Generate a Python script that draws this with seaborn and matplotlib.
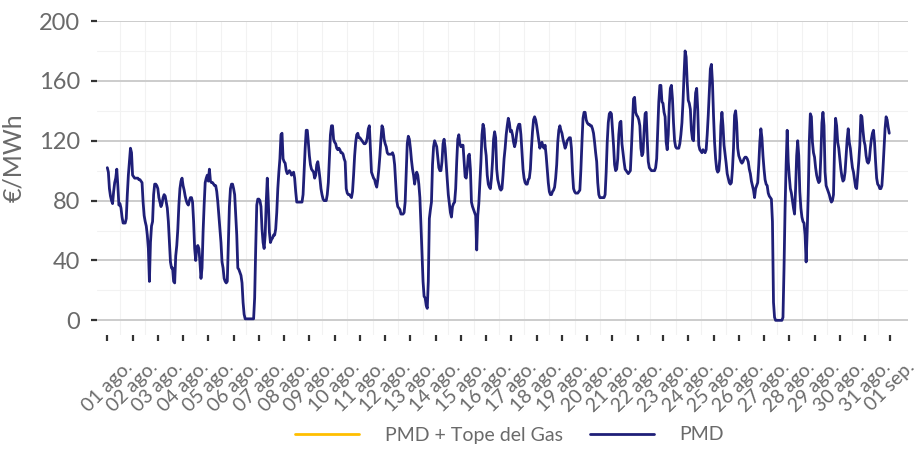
import numpy as np
import pandas as pd
import matplotlib
matplotlib.use("Agg")
import matplotlib.pyplot as plt
import seaborn as sns
from matplotlib.ticker import MultipleLocator, FixedLocator

# Hourly PMD (€/MWh), August, one list per day (hours 0..23)
d01 = [102, 99, 88, 83, 80, 78, 86, 92, 95, 101, 90, 77, 78, 75, 69, 65, 65, 65, 68, 84, 97, 106, 115, 112]
d02 = [97, 96, 95, 95, 95, 95, 94, 94, 93, 92, 79, 70, 66, 63, 57, 48, 26, 52, 63, 66, 84, 91, 91, 90]
d03 = [88, 82, 79, 76, 78, 82, 84, 83, 79, 75, 66, 52, 39, 35, 35, 26, 25, 43, 50, 61, 77, 88, 93, 95]
d04 = [90, 87, 83, 80, 78, 77, 80, 82, 82, 79, 66, 48, 40, 49, 50, 48, 39, 28, 35, 59, 77, 92, 95, 97]
d05 = [93, 101, 93, 92, 92, 91, 90, 90, 86, 79, 70, 61, 52, 39, 35, 28, 26, 25, 26, 50, 76, 88, 91, 91]
d06 = [88, 84, 70, 57, 35, 34, 32, 30, 25, 12, 4, 1, 1, 1, 1, 1, 1, 1, 1, 1, 15, 48, 77, 81]
d07 = [81, 80, 76, 61, 52, 48, 57, 79, 95, 79, 59, 52, 54, 55, 57, 57, 61, 72, 88, 99, 108, 124, 125, 108]
d08 = [106, 105, 100, 98, 99, 100, 99, 97, 98, 99, 95, 86, 79, 79, 79, 79, 79, 79, 84, 99, 115, 127, 127, 119]
d09 = [110, 104, 101, 100, 99, 95, 97, 104, 106, 101, 95, 88, 84, 81, 80, 80, 80, 84, 92, 108, 124, 130, 130, 121]
d10 = [119, 118, 115, 114, 115, 114, 112, 112, 111, 108, 106, 88, 85, 84, 84, 83, 82, 86, 97, 110, 119, 124, 125, 122]
d11 = [122, 121, 120, 119, 118, 118, 119, 122, 128, 130, 115, 99, 97, 95, 94, 91, 89, 94, 101, 110, 121, 130, 128, 121]
d12 = [118, 116, 112, 111, 111, 111, 111, 112, 110, 104, 92, 80, 76, 75, 74, 71, 71, 71, 72, 79, 99, 118, 123, 121]
d13 = [115, 107, 101, 97, 91, 96, 99, 97, 91, 82, 64, 44, 26, 16, 15, 10, 8, 26, 68, 74, 79, 104, 116, 120]
d14 = [118, 116, 109, 102, 100, 100, 106, 118, 121, 115, 104, 94, 84, 78, 72, 69, 76, 78, 79, 88, 106, 121, 124, 118]
d15 = [116, 117, 117, 106, 96, 95, 101, 110, 111, 101, 79, 76, 74, 72, 70, 47, 70, 78, 92, 106, 124, 131, 128, 116]
d16 = [110, 97, 91, 89, 88, 95, 106, 121, 126, 122, 101, 94, 91, 88, 87, 88, 97, 108, 115, 124, 130, 135, 132, 126]
d17 = [127, 124, 119, 116, 119, 125, 129, 131, 131, 124, 112, 101, 95, 92, 91, 91, 94, 95, 101, 115, 126, 134, 136, 134]
d18 = [130, 125, 120, 115, 118, 119, 116, 115, 117, 110, 101, 92, 86, 84, 84, 86, 87, 89, 95, 104, 119, 127, 130, 127]
d19 = [125, 121, 118, 115, 117, 120, 121, 122, 122, 115, 99, 88, 86, 85, 85, 85, 86, 87, 101, 119, 135, 139, 139, 134]
d20 = [132, 131, 131, 130, 130, 128, 125, 119, 112, 106, 92, 84, 82, 82, 82, 82, 82, 84, 99, 119, 132, 138, 139, 138]
d21 = [128, 117, 104, 100, 101, 108, 124, 132, 133, 118, 112, 106, 101, 100, 99, 98, 99, 100, 115, 132, 148, 149, 139, 137]
d22 = [136, 134, 130, 115, 110, 112, 126, 138, 139, 121, 106, 102, 101, 100, 100, 100, 100, 102, 108, 128, 146, 157, 157, 146]
d23 = [145, 139, 136, 119, 114, 124, 144, 155, 157, 148, 132, 120, 116, 115, 115, 115, 118, 124, 132, 146, 164, 180, 176, 159]
d24 = [147, 145, 141, 127, 121, 120, 139, 152, 155, 141, 117, 114, 113, 112, 114, 113, 112, 114, 124, 137, 152, 168, 171, 159]
d25 = [137, 119, 108, 101, 99, 100, 108, 130, 139, 130, 117, 111, 105, 98, 95, 92, 91, 92, 101, 115, 137, 140, 132, 115]
d26 = [110, 108, 106, 105, 106, 108, 109, 109, 108, 106, 101, 98, 93, 90, 87, 82, 88, 90, 92, 104, 119, 128, 122, 110]
d27 = [101, 94, 91, 90, 85, 83, 82, 81, 66, 12, 2, 0, 0, 0, 0, 0, 0, 0, 2, 35, 75, 104, 127, 106]
d28 = [96, 88, 85, 80, 75, 71, 88, 110, 120, 110, 86, 75, 69, 66, 65, 57, 39, 59, 84, 119, 138, 136, 119, 112]
d29 = [109, 102, 97, 94, 92, 93, 110, 132, 139, 130, 99, 90, 88, 86, 84, 81, 79, 80, 84, 115, 135, 130, 119, 115]
d30 = [108, 101, 96, 93, 94, 99, 110, 121, 128, 119, 115, 108, 102, 99, 94, 89, 88, 97, 106, 117, 137, 136, 127, 120]
d31 = [117, 110, 106, 105, 107, 115, 121, 125, 127, 119, 106, 95, 91, 90, 88, 88, 90, 101, 115, 128, 136, 134, 129, 125]

day_labels = ["01 ago.", "02 ago.", "03 ago.", "04 ago.", "05 ago.", "06 ago.", "07 ago.",
              "08 ago.", "09 ago.", "10 ago.", "11 ago.", "12 ago.", "13 ago.", "14 ago.",
              "15 ago.", "16 ago.", "17 ago.", "18 ago.", "19 ago.", "20 ago.", "21 ago.",
              "22 ago.", "23 ago.", "24 ago.", "25 ago.", "26 ago.", "27 ago.", "28 ago.",
              "29 ago.", "30 ago.", "31 ago.", "01 sep."]
y_ticks = [0, 40, 80, 120, 160, 200]
series_names = ["PMD + Tope del Gas", "PMD"]

days = [d01, d02, d03, d04, d05, d06, d07, d08, d09, d10, d11, d12, d13, d14, d15, d16,
        d17, d18, d19, d20, d21, d22, d23, d24, d25, d26, d27, d28, d29, d30, d31]
pmd = np.concatenate([np.asarray(d, dtype=float) for d in days])
df = pd.DataFrame({"hora": np.arange(len(pmd)), "PMD": pmd})

NAVY = "#1f1f78"
GOLD = "#ffbf00"
GREY = "#6a6a6a"

sns.set_theme(style="white")
plt.rcParams["font.family"] = ["Lato", "DejaVu Sans"]

fig = plt.figure(figsize=(9.2, 4.49), dpi=100)
W, H = 920, 449
ax = fig.add_axes([97 / W, 1 - 335 / H, (908 - 97) / W, (335 - 21) / H])

# gold series: present in legend only (not visible in chart)
gold_line, = ax.plot([], [], color=GOLD, lw=2.0, label=series_names[0])
sns.lineplot(data=df, x="hora", y="PMD", color=NAVY, lw=2.0, ax=ax, label=series_names[1], legend=False)

ax.set_xlim(-9.8, 760.8)
ax.set_ylim(-9.8, 200)

n_ticks = len(day_labels)
ax.xaxis.set_major_locator(FixedLocator([24 * i for i in range(n_ticks)]))
ax.xaxis.set_minor_locator(FixedLocator([24 * i + 12 for i in range(n_ticks - 1)]))
ax.set_xticklabels(day_labels)
ax.yaxis.set_major_locator(FixedLocator(y_ticks))
ax.yaxis.set_minor_locator(MultipleLocator(20))

ax.grid(False)
ax.grid(which="major", axis="y", color="#cccccc", lw=1.4)
ax.grid(which="minor", axis="y", color="#f2f2f2", lw=0.8)
ax.grid(which="minor", axis="x", color="#f2f2f2", lw=0.8)
ax.set_axisbelow(True)
for s in ax.spines.values():
    s.set_visible(False)

ax.tick_params(axis="x", which="major", direction="out", length=4.5, width=1.6, color="#333333",
               pad=12, labelsize=14, labelcolor=GREY, bottom=True)
ax.tick_params(axis="x", which="minor", length=0)
ax.tick_params(axis="y", which="major", direction="out", length=4.3, width=1.6, color="#333333",
               pad=8, labelsize=17, labelcolor=GREY, left=True)
ax.tick_params(axis="y", which="minor", length=0)
for lab in ax.get_xticklabels():
    lab.set_rotation(45)
    lab.set_ha("center")

ax.set_xlabel("")
ax.set_ylabel("€/MWh", fontsize=18, color=GREY)
ax.yaxis.set_label_coords(-0.089, 0.564)

handles = [gold_line, plt.Line2D([], [], color=NAVY, lw=2.0)]
fig.legend(handles, series_names, loc="center", bbox_to_anchor=(509.5 / W, 1 - 435 / H),
           ncol=2, frameon=False, handlelength=3.3, handletextpad=1.3, columnspacing=1.4,
           fontsize=14, labelcolor=GREY)

fig.savefig("out.png", dpi=100)
